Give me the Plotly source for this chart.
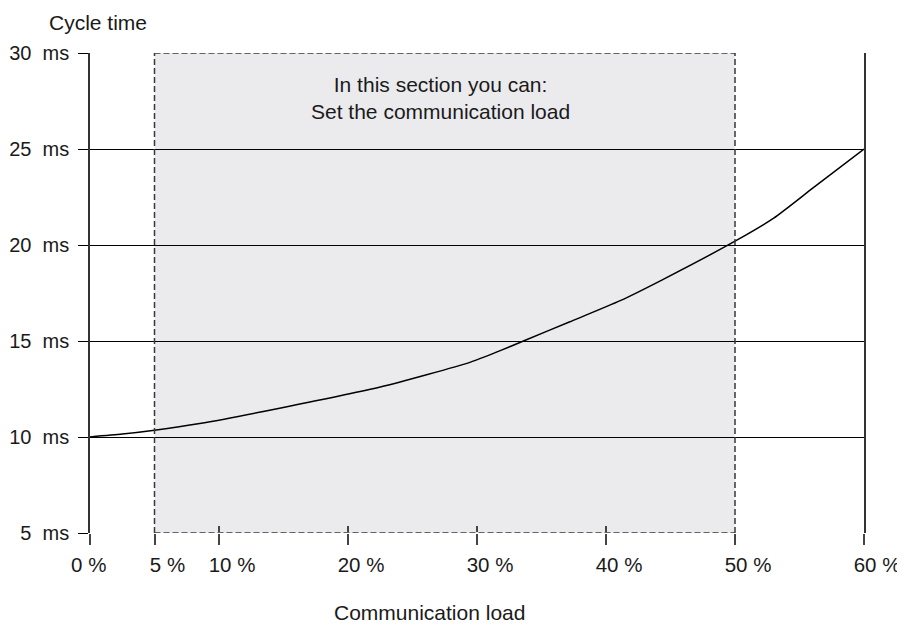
import plotly.graph_objects as go

# Data
load_pct = [0, 2.5, 5, 8.5, 14.7, 22.5, 29.5, 31.8, 33.6, 37.2, 41.1, 44.4, 50, 53, 56.1, 60]
cycle_ms = [10.0, 10.15, 10.35, 10.7, 11.5, 12.6, 13.9, 14.5, 15.0, 16.0, 17.1, 18.2, 20.2, 21.4, 23.0, 25.0]

x_tickvals = [0, 5, 10, 20, 30, 40, 50, 60]
x_ticktext = ["0 %\u00a0\u00a0\u00a0\u00a0\u00a0", "5 %", "10 %", "20 %", "30 %", "40 %", "50 %", "60 %"]
x_cross_ticks = [10, 20, 30, 40]
y_tickvals = [5, 10, 15, 20, 25, 30]
y_ticktext = ["5\u00a0\u00a0ms", "10\u00a0\u00a0ms", "15\u00a0\u00a0ms", "20\u00a0\u00a0ms", "25\u00a0\u00a0ms", "30\u00a0\u00a0ms"]

section_start, section_end = 5, 50
y_min, y_max = 5, 30

FONT = "Liberation Sans, Arial, sans-serif"
TXT = "#1a1a1a"
SHADE = "#ebebee"
DASHC = "#383838"

fig = go.Figure()
fig.add_trace(go.Scatter(
    x=load_pct, y=cycle_ms, mode="lines",
    line=dict(color="black", width=1.5, shape="spline", smoothing=0.6),
    hoverinfo="skip", showlegend=False,
))
# helper invisible trace to activate the overlay axis carrying the crossing ticks
fig.add_trace(go.Scatter(x=[0, 60], y=[5, 5], xaxis="x2", mode="lines",
                         line=dict(width=0), opacity=0, showlegend=False, hoverinfo="skip"))

# shaded section
fig.add_shape(type="rect", xref="x", yref="y", x0=section_start, x1=section_end,
              y0=y_min, y1=y_max, fillcolor=SHADE, line_width=0, layer="below")
# break the solid grid lines on the section border, then draw dashed border
for yy in (y_min, y_max):
    fig.add_shape(type="line", xref="x", yref="y", x0=section_start, x1=section_end,
                  y0=yy, y1=yy, line=dict(color=SHADE, width=2), layer="above")
    fig.add_shape(type="line", xref="x", yref="y", x0=section_start, x1=section_end,
                  y0=yy, y1=yy, line=dict(color=DASHC, width=1.5, dash="6px,3px"), layer="above")
for xx in (section_start, section_end):
    fig.add_shape(type="line", xref="x", yref="y", x0=xx, x1=xx,
                  y0=y_min, y1=y_max, line=dict(color=DASHC, width=1.5, dash="6px,3px"), layer="above")

fig.add_annotation(x=27.2, y=27.65, xref="x", yref="y",
                   text="In this section you can:<br>Set the communication load",
                   showarrow=False, font=dict(family=FONT, size=21, color=TXT), align="center")
fig.add_annotation(x=-0.056, y=1.064, xref="paper", yref="paper", xanchor="left", yanchor="middle",
                   text="Cycle time", showarrow=False, font=dict(family=FONT, size=21, color=TXT))
fig.add_annotation(x=0.439, y=-0.165, xref="paper", yref="paper", xanchor="center", yanchor="middle",
                   text="Communication load", showarrow=False, font=dict(family=FONT, size=21, color=TXT))

# page body adds an 8px offset; margins compensate so the plot lands where the reference has it
fig.update_layout(
    width=905, height=627,
    margin=dict(l=82, r=49, t=45, b=102, autoexpand=False),
    paper_bgcolor="white", plot_bgcolor="white",
    font=dict(family=FONT, size=20, color=TXT),
    xaxis=dict(
        range=[0, 60], tickmode="array", tickvals=x_tickvals, ticktext=x_ticktext,
        ticks="outside", ticklen=11, tickwidth=1.5, tickcolor="#444",
        showgrid=False, zeroline=False, showline=False, automargin=False,
        ticklabelshift=13, ticklabelstandoff=2,
        tickfont=dict(family=FONT, size=20.5, color=TXT),
    ),
    xaxis2=dict(
        range=[0, 60], overlaying="x", anchor="y", side="bottom",
        tickmode="array", tickvals=x_cross_ticks, ticks="inside", ticklen=7,
        tickwidth=1.5, tickcolor="#444", showticklabels=False, automargin=False,
        showgrid=False, zeroline=False, showline=False,
    ),
    yaxis=dict(
        range=[y_min, y_max], tickmode="array", tickvals=y_tickvals, ticktext=y_ticktext,
        ticks="outside", ticklen=10, tickwidth=1, tickcolor="black",
        showgrid=True, gridcolor="black", gridwidth=1, automargin=False,
        zeroline=False, showline=True, linecolor="#333", linewidth=1.5, mirror=True,
        ticklabelstandoff=5,
        tickfont=dict(family=FONT, size=20, color=TXT),
    ),
)

fig.write_html("out.html")
